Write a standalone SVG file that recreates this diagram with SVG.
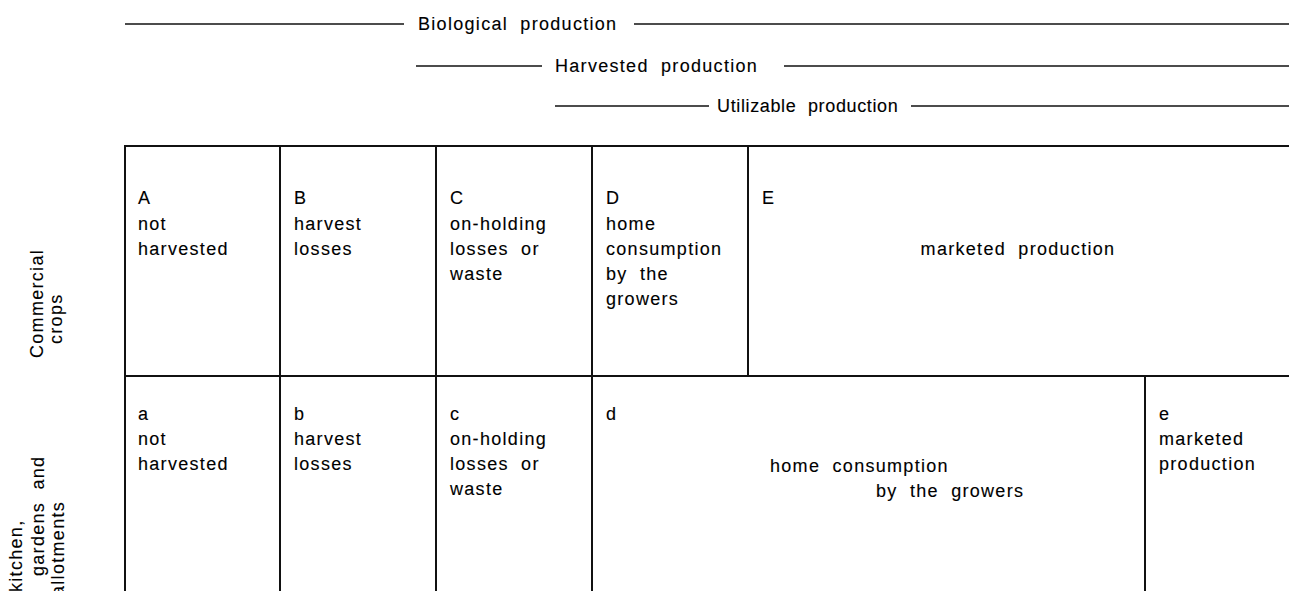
<svg xmlns="http://www.w3.org/2000/svg" width="1289" height="591" viewBox="0 0 1289 591">
<style>
text { font-family: "Liberation Sans", Arial, sans-serif; font-size: 18px; letter-spacing: 1.3px; word-spacing: 6px; fill: #000; stroke: #000; stroke-width: 0.12px; }
.rule { stroke: #111; stroke-width: 1.6; fill: none; }
.grid { stroke: #111; stroke-width: 2; fill: none; }
</style>
<rect width="1289" height="591" fill="#fff"/>
<g id="scale-lines">
  <g id="biological">
    <line class="rule" x1="125" y1="24" x2="404" y2="24"/>
    <text x="418" y="30">Biological production</text>
    <line class="rule" x1="634" y1="24" x2="1289" y2="24"/>
  </g>
  <g id="harvested">
    <line class="rule" x1="416" y1="66" x2="542" y2="66"/>
    <text x="555" y="72">Harvested production</text>
    <line class="rule" x1="784" y1="66" x2="1289" y2="66"/>
  </g>
  <g id="utilizable">
    <line class="rule" x1="555" y1="106" x2="709" y2="106"/>
    <text x="717" y="112" textLength="182" lengthAdjust="spacing">Utilizable production</text>
    <line class="rule" x1="911" y1="106" x2="1289" y2="106"/>
  </g>
</g>
<g id="row-labels">
  <text transform="translate(43,358) rotate(-90)">Commercial</text>
  <text transform="translate(62,344) rotate(-90)">crops</text>
  <text transform="translate(22,592) rotate(-90)">kitchen,</text>
  <text transform="translate(44,576) rotate(-90)">gardens and</text>
  <text transform="translate(64,596) rotate(-90)">allotments</text>
</g>
<g id="connectors">
  <line class="grid" x1="124" y1="146" x2="1289" y2="146"/>
  <line class="grid" x1="124" y1="376" x2="1289" y2="376"/>
  <line class="grid" x1="125" y1="146" x2="125" y2="591"/>
  <line class="grid" x1="280" y1="146" x2="280" y2="591"/>
  <line class="grid" x1="436" y1="146" x2="436" y2="591"/>
  <line class="grid" x1="592" y1="146" x2="592" y2="591"/>
  <line class="grid" x1="748" y1="146" x2="748" y2="376"/>
  <line class="grid" x1="1145" y1="376" x2="1145" y2="591"/>
</g>
<g id="cell-A"><text x="138" y="204">A</text><text x="138" y="230">not</text><text x="138" y="255">harvested</text></g>
<g id="cell-B"><text x="294" y="204">B</text><text x="294" y="230">harvest</text><text x="294" y="255">losses</text></g>
<g id="cell-C"><text x="450" y="204">C</text><text x="450" y="230">on-holding</text><text x="450" y="255">losses or</text><text x="450" y="280">waste</text></g>
<g id="cell-D"><text x="606" y="204">D</text><text x="606" y="230">home</text><text x="606" y="255">consumption</text><text x="606" y="280">by the</text><text x="606" y="305">growers</text></g>
<g id="cell-E"><text x="762" y="204">E</text><text x="1018" y="255" text-anchor="middle">marketed production</text></g>
<g id="cell-a"><text x="138" y="420">a</text><text x="138" y="445">not</text><text x="138" y="470">harvested</text></g>
<g id="cell-b"><text x="294" y="420">b</text><text x="294" y="445">harvest</text><text x="294" y="470">losses</text></g>
<g id="cell-c"><text x="450" y="420">c</text><text x="450" y="445">on-holding</text><text x="450" y="470">losses or</text><text x="450" y="495">waste</text></g>
<g id="cell-d"><text x="606" y="420">d</text><text x="770" y="472">home consumption</text><text x="876" y="497">by the growers</text></g>
<g id="cell-e"><text x="1159" y="420">e</text><text x="1159" y="445">marketed</text><text x="1159" y="470">production</text></g>
</svg>
